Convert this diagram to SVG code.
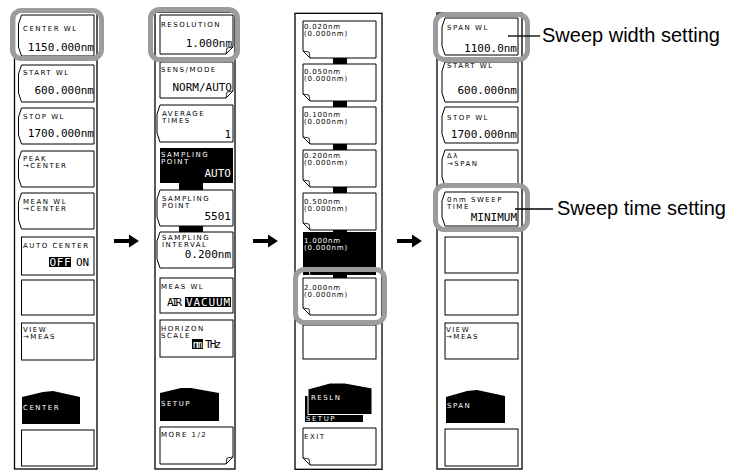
<svg xmlns="http://www.w3.org/2000/svg" width="735" height="470" viewBox="0 0 735 470">
<style>
.frame{fill:#fff;stroke:#000;stroke-width:1.3}
.btn{fill:#fff;stroke:#000;stroke-width:1}
.flap{fill:none;stroke:#000;stroke-width:0.8}
.wflap{fill:none;stroke:#fff;stroke-width:0.8}
.blk{fill:#000}
.hl{fill:none;stroke:#9c9c9c;stroke-width:5}
.lbl{font-family:"DejaVu Sans",sans-serif;font-size:7px;letter-spacing:1.5px;fill:#000}
.val{font-family:"DejaVu Sans Mono",monospace;font-size:11px;fill:#000}
.end{text-anchor:end}
.sm{font-family:"DejaVu Sans",sans-serif;font-size:7px;letter-spacing:0.8px;fill:#000}
.w{fill:#fff}
.note{font-family:"Liberation Sans",Arial,sans-serif;font-size:20px;fill:#000}
.ln{stroke:#000;stroke-width:1.3;fill:none}
.arr{fill:#000}
</style>

<!-- Panel 1 -->
<g id="panel1">
<rect class="frame" x="14.5" y="12" width="82.5" height="457"/>
<g id="p1-center-wl"><path class="btn" d="M21.5 15H94V56H21.5L18.5 47V24Z"/><text class="lbl" x="23" y="31">CENTER WL</text><text class="val end" x="94" y="51">1150.000nm</text></g>
<g id="p1-start-wl"><path class="btn" d="M21.5 65H94V102H21.5L18.5 93V74Z"/><text class="lbl" x="23" y="75">START WL</text><text class="val end" x="94" y="94">600.000nm</text></g>
<g id="p1-stop-wl"><path class="btn" d="M21.5 108H94V144H21.5L18.5 135V117Z"/><text class="lbl" x="23" y="119">STOP WL</text><text class="val end" x="94" y="137">1700.000nm</text></g>
<g id="p1-peak"><path class="btn" d="M21.5 151H94V187H21.5L18.5 178V160Z"/><text class="lbl" x="23" y="160.5">PEAK</text><text class="lbl" x="23" y="168">→CENTER</text></g>
<g id="p1-mean"><path class="btn" d="M21.5 193H94V229H21.5L18.5 220V202Z"/><text class="lbl" x="23" y="203.5">MEAN WL</text><text class="lbl" x="23" y="211">→CENTER</text></g>
<g id="p1-auto"><rect class="btn" x="21.5" y="237" width="72.5" height="38"/><text class="lbl" x="23" y="248">AUTO CENTER</text><rect class="blk" x="49" y="257" width="22" height="10"/><text class="val w" x="49.5" y="266" textLength="21">OFF</text><text class="val" x="76" y="266">ON</text></g>
<g id="p1-empty1"><rect class="btn" x="21.5" y="280" width="72.5" height="35"/></g>
<g id="p1-view"><rect class="btn" x="21.5" y="323" width="72.5" height="37"/><text class="lbl" x="23" y="331.5">VIEW</text><text class="lbl" x="23" y="339">→MEAS</text></g>
<g id="p1-tab"><path class="blk" d="M22 397L43 392L53 391L80 397V424H22Z"/><text class="lbl w" x="23" y="410">CENTER</text></g>
<g id="p1-empty2"><rect class="btn" x="21.5" y="430" width="72.5" height="36"/></g>
</g>

<!-- Panel 2 -->
<g id="panel2">
<rect class="frame" x="155" y="12" width="80" height="457"/>
<g id="p2-resolution"><path class="btn" d="M160 15H233V47L226 54H160Z"/><path class="flap" d="M226 54L227 48L233 47"/><text class="lbl" x="161" y="27">RESOLUTION</text><text class="val end" x="232" y="47">1.000nm</text></g>
<g id="p2-sens"><path class="btn" d="M160 62H233V91L226 98H160Z"/><path class="flap" d="M226 98L227 92L233 91"/><text class="lbl" x="161" y="72">SENS/MODE</text><text class="val end" x="232" y="91">NORM/AUTO</text></g>
<g id="p2-average"><path class="btn" d="M160 105H233V142H160L157 133V114Z"/><text class="lbl" x="162" y="115.5">AVERAGE</text><text class="lbl" x="162" y="123">TIMES</text><text class="val end" x="231" y="138">1</text></g>
<g id="p2-sampauto"><rect class="blk" x="160" y="148" width="73" height="35"/><text class="lbl w" x="161" y="156.5">SAMPLING</text><text class="lbl w" x="161" y="164">POINT</text><text class="val w end" x="231" y="177">AUTO</text></g>
<rect class="blk" x="179" y="183" width="24" height="7"/>
<g id="p2-samppoint"><path class="btn" d="M160 190H233V226H160L157 217V199Z"/><text class="lbl" x="162" y="200.5">SAMPLING</text><text class="lbl" x="162" y="208">POINT</text><text class="val end" x="231" y="220">5501</text></g>
<rect class="blk" x="179" y="226" width="24" height="6"/>
<g id="p2-interval"><path class="btn" d="M160 232H233V268H160L157 259V241Z"/><text class="lbl" x="162" y="239.5">SAMPLING</text><text class="lbl" x="162" y="247">INTERVAL</text><text class="val end" x="231" y="258">0.200nm</text></g>
<g id="p2-meas"><rect class="btn" x="160" y="278" width="73" height="35"/><text class="lbl" x="161" y="289">MEAS WL</text><text class="val" x="167" y="306" textLength="15">AIR</text><rect class="blk" x="185" y="297" width="46" height="10"/><text class="val w" x="186" y="306" textLength="44">VACUUM</text></g>
<g id="p2-horizon"><rect class="btn" x="160" y="320" width="73" height="37"/><text class="lbl" x="161" y="330.5">HORIZON</text><text class="lbl" x="161" y="338">SCALE</text><rect class="blk" x="192" y="339" width="11" height="10"/><text class="val w" x="192.5" y="348" textLength="10">nm</text><text class="val" x="205" y="348" textLength="16">THz</text></g>
<g id="p2-tab"><path class="blk" d="M160 393L181 388L191 388L219 393V421H160Z"/><text class="lbl w" x="161" y="406">SETUP</text></g>
<g id="p2-more"><path class="btn" d="M160 427H233V457L226 464H160Z"/><path class="flap" d="M226 464L227 458L233 457"/><text class="lbl" x="161" y="437">MORE 1/2</text></g>
</g>

<!-- Panel 3 -->
<g id="panel3">
<rect class="frame" x="295" y="13.3" width="87" height="456"/>
<rect class="blk" x="333" y="58" width="14" height="6"/>
<rect class="blk" x="333" y="101" width="14" height="6"/>
<rect class="blk" x="333" y="144" width="14" height="6"/>
<rect class="blk" x="333" y="187" width="14" height="6"/>
<rect class="blk" x="333" y="229" width="14" height="4"/>
<rect class="blk" x="333" y="274" width="14" height="5"/>
<g id="p3-0020"><path class="btn" d="M303 21H376V58H310L303 51Z"/><path class="flap" d="M310 58L309 52L303 51"/><text class="sm" x="304" y="29">0.020nm</text><text class="sm" x="304" y="36">(0.000nm)</text></g>
<g id="p3-0050"><path class="btn" d="M303 64H376V101H310L303 94Z"/><path class="flap" d="M310 101L309 95L303 94"/><text class="sm" x="304" y="74">0.050nm</text><text class="sm" x="304" y="81">(0.000nm)</text></g>
<g id="p3-0100"><path class="btn" d="M303 107H376V144H310L303 137Z"/><path class="flap" d="M310 144L309 138L303 137"/><text class="sm" x="304" y="117">0.100nm</text><text class="sm" x="304" y="124">(0.000nm)</text></g>
<g id="p3-0200"><path class="btn" d="M303 150H376V187H310L303 180Z"/><path class="flap" d="M310 187L309 181L303 180"/><text class="sm" x="304" y="158">0.200nm</text><text class="sm" x="304" y="165">(0.000nm)</text></g>
<g id="p3-0500"><path class="btn" d="M303 193H376V230H310L303 223Z"/><path class="flap" d="M310 230L309 224L303 223"/><text class="sm" x="304" y="204">0.500nm</text><text class="sm" x="304" y="211">(0.000nm)</text></g>
<g id="p3-1000"><rect class="blk" x="303" y="232" width="73" height="43"/><path class="wflap" d="M310 275L309 269L303 268"/><text class="sm w" x="304" y="243">1.000nm</text><text class="sm w" x="304" y="250">(0.000nm)</text></g>
<g id="p3-2000"><path class="btn" d="M303 278H376V315H310L303 308Z"/><path class="flap" d="M310 315L309 309L303 308"/><text class="sm" x="304" y="290">2.000nm</text><text class="sm" x="304" y="297">(0.000nm)</text></g>
<g id="p3-empty"><rect class="btn" x="303" y="325" width="73" height="34"/></g>
<g id="p3-tab"><rect class="blk" x="305" y="396" width="58" height="26"/><path fill="#000" stroke="#fff" stroke-width="1" d="M308 389L330 383L345 383L372 388V414.5H308Z"/><text class="lbl w" x="311" y="400">RESLN</text><text class="lbl w" x="306" y="421">SETUP</text></g>
<g id="p3-exit"><path class="btn" d="M303 428H376V465H310L303 458Z"/><path class="flap" d="M310 465L309 459L303 458"/><text class="lbl" x="304" y="439">EXIT</text></g>
</g>

<!-- Panel 4 -->
<g id="panel4">
<rect class="frame" x="437" y="13" width="85" height="456"/>
<g id="p4-span-wl"><path class="btn" d="M445 18H518V55H445L442 46V27Z"/><text class="lbl" x="447" y="30">SPAN WL</text><text class="val end" x="517" y="52">1100.0nm</text></g>
<g id="p4-start-wl"><path class="btn" d="M445 62H518V102H445L442 93V71Z"/><text class="lbl" x="447" y="68">START WL</text><text class="val end" x="517" y="94">600.000nm</text></g>
<g id="p4-stop-wl"><path class="btn" d="M445 107H518V143H445L442 134V116Z"/><text class="lbl" x="447" y="120">STOP WL</text><text class="val end" x="517" y="138">1700.000nm</text></g>
<g id="p4-dspan"><path class="btn" d="M445 150H518V186H445L442 177V159Z"/><text class="lbl" x="447" y="158">Δλ</text><text class="lbl" x="447" y="166">→SPAN</text></g>
<g id="p4-sweep"><path class="btn" d="M445 192H518V226H445L442 217V201Z"/><text class="lbl" x="447" y="201.5">0nm SWEEP</text><text class="lbl" x="447" y="209">TIME</text><text class="val end" x="517" y="221">MINIMUM</text></g>
<g id="p4-empty1"><rect class="btn" x="445" y="237" width="73" height="36"/></g>
<g id="p4-empty2"><rect class="btn" x="445" y="280" width="73" height="35"/></g>
<g id="p4-view"><rect class="btn" x="445" y="323" width="73" height="36"/><text class="lbl" x="446" y="331.5">VIEW</text><text class="lbl" x="446" y="339">→MEAS</text></g>
<g id="p4-tab"><path class="blk" d="M446 397L467 391L477 390L505 396V423H446Z"/><text class="lbl w" x="447" y="408">SPAN</text></g>
<g id="p4-empty3"><rect class="btn" x="445" y="429" width="73" height="37"/></g>
</g>

<!-- Highlights -->
<g id="highlights">
<rect class="hl" x="12.5" y="10.5" width="89" height="48" rx="9"/>
<rect class="hl" x="150.5" y="9.5" width="87" height="50" rx="9"/>
<rect class="hl" x="295.5" y="269.5" width="89" height="53" rx="9"/>
<rect class="hl" x="435.5" y="14.5" width="92" height="45" rx="9"/>
<rect class="hl" x="435.5" y="185.5" width="92" height="44" rx="9"/>
</g>

<!-- Connectors -->
<g id="connectors">
<path class="arr" d="M114 239H129V234.5L139 241L129 247.5V243H114Z"/>
<path class="arr" d="M253 239H268V234.5L278 241L268 247.5V243H253Z"/>
<path class="arr" d="M397 239H412V234.5L422 241L412 247.5V243H397Z"/>
<line class="ln" x1="508" y1="36" x2="540" y2="36"/>
<line class="ln" x1="515" y1="209" x2="553" y2="209"/>
</g>

<g id="notes">
<text class="note" x="542" y="42">Sweep width setting</text>
<text class="note" x="557" y="215">Sweep time setting</text>
</g>
</svg>
